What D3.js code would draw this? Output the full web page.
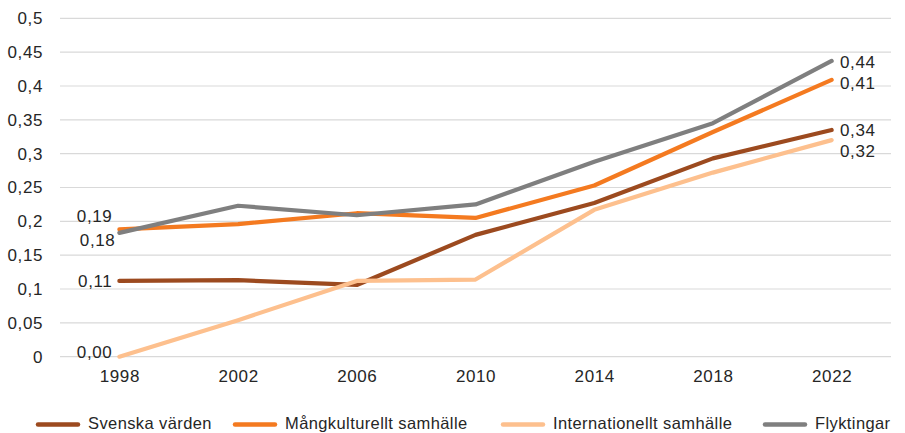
<!DOCTYPE html>
<html><head><meta charset="utf-8">
<script src="https://cdn.jsdelivr.net/npm/d3@7"></script>
<style>body{margin:0;background:#fff}svg{display:block;font-family:"Liberation Sans",Arial,sans-serif}</style>
</head><body><svg id="c" width="905" height="433"></svg>
<script>
const years = ["1998","2002","2006","2010","2014","2018","2022"];
const yTicks = [0,0.05,0.1,0.15,0.2,0.25,0.3,0.35,0.4,0.45,0.5];
const seriesNames = ["Svenska värden","Mångkulturellt samhälle","Internationellt samhälle","Flyktingar"];
const svenska = [0.112,0.113,0.106,0.180,0.227,0.293,0.335];
const mangkult = [0.188,0.196,0.212,0.205,0.253,0.332,0.409];
const internat = [0.000,0.054,0.112,0.114,0.217,0.272,0.320];
const flykt = [0.183,0.223,0.209,0.225,0.288,0.345,0.437];
const startLabels = ["0,11","0,19","0,00","0,18"];
const endLabels = ["0,34","0,41","0,32","0,44"];
const colors = ["#9C4A1F","#F47A20","#FDC08E","#7F7F7F"];
const allSeries = [svenska,mangkult,internat,flykt];

const svg = d3.select("#c");
const x = d3.scalePoint().domain(years).range([60,891]).padding(0.5);
const y = d3.scaleLinear().domain([0,0.5]).range([356.7,18.3]);
const fmt = v => String(+v.toFixed(2)).replace(".",",");
const txt = "#262626";

// gridlines
svg.append("g").selectAll("line").data(yTicks).join("line")
  .attr("x1",60).attr("x2",891).attr("y1",d=>y(d)).attr("y2",d=>y(d))
  .attr("stroke","#d9d9d9").attr("stroke-width",1.2);

// y axis labels
const yAxis = svg.append("g").attr("transform","translate(43,0)")
  .call(d3.axisLeft(y).tickValues(yTicks).tickFormat(fmt).tickSize(0).tickPadding(0));
yAxis.select(".domain").remove();
yAxis.selectAll("text").attr("font-size",17).attr("fill",txt).attr("font-family","Liberation Sans, Arial, sans-serif").attr("letter-spacing","0.6px");

// x axis labels
const xAxis = svg.append("g").attr("transform","translate(0,370)")
  .call(d3.axisBottom(x).tickSize(0).tickPadding(0));
xAxis.select(".domain").remove();
xAxis.selectAll("text").attr("font-size",17).attr("fill",txt).attr("dy","0.7em").attr("font-family","Liberation Sans, Arial, sans-serif").attr("letter-spacing","0.6px");

// lines
const line = d3.line().x((d,i)=>x(years[i])).y(d=>y(d));
allSeries.forEach((s,k)=>{
  svg.append("path").datum(s).attr("d",line).attr("fill","none")
    .attr("stroke",colors[k]).attr("stroke-width",4.2).attr("stroke-linejoin","round").attr("stroke-linecap","round");
});

// data labels
const startOffsets = [[112,281],[112,216.5],[112,352.5],[115,240]];
const endOffsets = [[840,130.5],[840,83],[840,151],[840,62.5]];
const lab = svg.append("g").attr("font-size",17).attr("fill",txt).attr("letter-spacing","0.6px");
allSeries.forEach((s,k)=>{
  lab.append("text").attr("x",x(years[0]) + (startOffsets[k][0]-119)).attr("y",startOffsets[k][1]).attr("dy","0.35em")
    .attr("text-anchor","end").text(startLabels[k]);
  lab.append("text").attr("x",x(years[6]) + (endOffsets[k][0]-831.6)).attr("y",endOffsets[k][1]).attr("dy","0.35em")
    .text(endLabels[k]);
});

// legend
const legX = [36,233,501,763];
const leg = svg.append("g");
seriesNames.forEach((n,k)=>{
  leg.append("line").attr("x1",legX[k]+2).attr("x2",legX[k]+42).attr("y1",424.5).attr("y2",424.5)
    .attr("stroke",colors[k]).attr("stroke-width",4.5).attr("stroke-linecap","round");
  leg.append("text").attr("x",legX[k]+52).attr("y",423).attr("dy","0.35em").attr("font-size",16.5)
    .attr("fill",txt).attr("letter-spacing","0.4px").text(n);
});
</script></body></html>
